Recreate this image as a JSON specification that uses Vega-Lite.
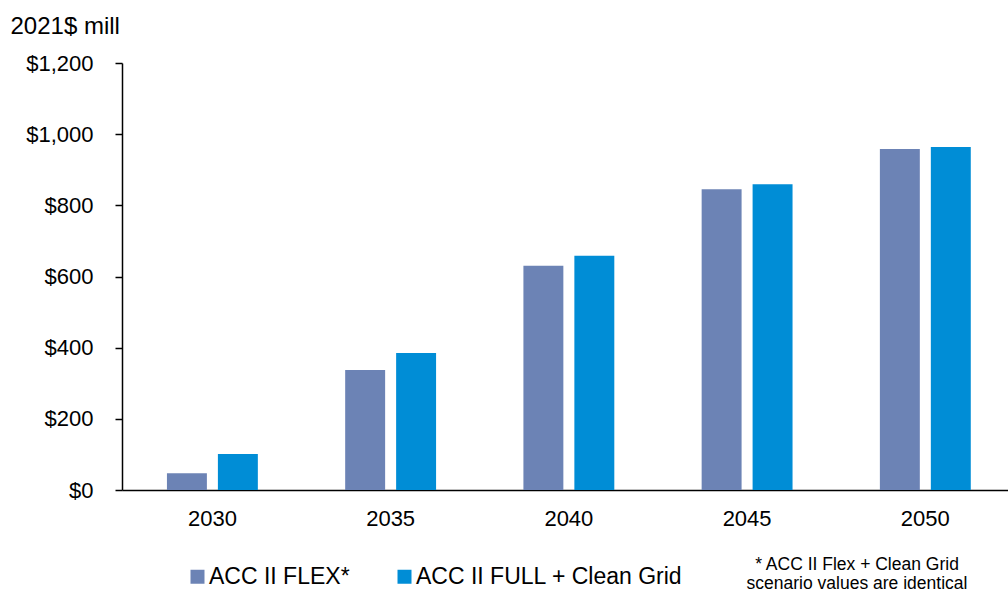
{
  "$schema": "https://vega.github.io/schema/vega-lite/v6.json",
  "autosize": {"type": "none"},
  "padding": {"left": 122, "top": 63, "right": 0, "bottom": 102},
  "width": 886,
  "height": 427,
  "background": "white",
  "config": {
    "view": {"stroke": null},
    "font": "Liberation Sans"
  },
  "title": {
    "text": ["* ACC II Flex + Clean Grid", "scenario values are identical"],
    "orient": "bottom",
    "anchor": "end",
    "align": "center",
    "frame": "group",
    "dx": -151,
    "dy": -33,
    "offset": 0,
    "fontSize": 17.5,
    "fontWeight": "normal",
    "font": "Liberation Sans",
    "color": "#000000",
    "lineHeight": 19,
    "baseline": "top"
  },
  "data": {
    "values": [
      {"year": "2030", "series": "ACC II FLEX*", "value": 47},
      {"year": "2030", "series": "ACC II FULL + Clean Grid", "value": 101},
      {"year": "2035", "series": "ACC II FLEX*", "value": 337},
      {"year": "2035", "series": "ACC II FULL + Clean Grid", "value": 385},
      {"year": "2040", "series": "ACC II FLEX*", "value": 630},
      {"year": "2040", "series": "ACC II FULL + Clean Grid", "value": 658},
      {"year": "2045", "series": "ACC II FLEX*", "value": 845},
      {"year": "2045", "series": "ACC II FULL + Clean Grid", "value": 859},
      {"year": "2050", "series": "ACC II FLEX*", "value": 958},
      {"year": "2050", "series": "ACC II FULL + Clean Grid", "value": 964}
    ]
  },
  "mark": {"type": "bar"},
  "encoding": {
    "x": {
      "field": "year",
      "type": "ordinal",
      "scale": {"paddingInner": 0.49, "paddingOuter": 0.2305, "align": 0.547},
      "axis": {
        "title": null,
        "labelAngle": 0,
        "ticks": false,
        "tickSize": 0,
        "labelPadding": 18,
        "labelFontSize": 22,
        "labelFont": "Liberation Sans",
        "labelColor": "#000000",
        "domainColor": "#000000",
        "domainWidth": 1.5
      }
    },
    "xOffset": {
      "field": "series",
      "type": "nominal",
      "sort": ["ACC II FLEX*", "ACC II FULL + Clean Grid"],
      "scale": {"paddingInner": 0.216, "paddingOuter": 0}
    },
    "y": {
      "field": "value",
      "type": "quantitative",
      "scale": {"domain": [0, 1200], "nice": false},
      "axis": {
        "title": "2021$ mill",
        "titleAngle": 0,
        "titleAlign": "left",
        "titleBaseline": "alphabetic",
        "titleX": -112,
        "titleY": -30,
        "titleFontSize": 24,
        "titleFontWeight": "normal",
        "titleFont": "Liberation Sans",
        "titleColor": "#000000",
        "values": [0, 200, 400, 600, 800, 1000, 1200],
        "format": "$,.0f",
        "grid": false,
        "tickSize": 7,
        "tickColor": "#000000",
        "tickWidth": 1.5,
        "labelPadding": 22,
        "labelFontSize": 22,
        "labelFont": "Liberation Sans",
        "labelColor": "#000000",
        "domainColor": "#000000",
        "domainWidth": 1.5
      }
    },
    "color": {
      "field": "series",
      "type": "nominal",
      "scale": {
        "domain": ["ACC II FLEX*", "ACC II FULL + Clean Grid"],
        "range": ["#6C83B5", "#008DD6"]
      },
      "legend": {
        "title": null,
        "orient": "none",
        "direction": "horizontal",
        "legendX": 64,
        "legendY": 502,
        "symbolType": "square",
        "symbolSize": 196,
        "symbolStrokeWidth": 0,
        "labelFontSize": 23,
        "labelFont": "Liberation Sans",
        "labelColor": "#000000",
        "labelOffset": 0,
        "columnPadding": 43,
        "labelLimit": 400
      }
    }
  }
}
